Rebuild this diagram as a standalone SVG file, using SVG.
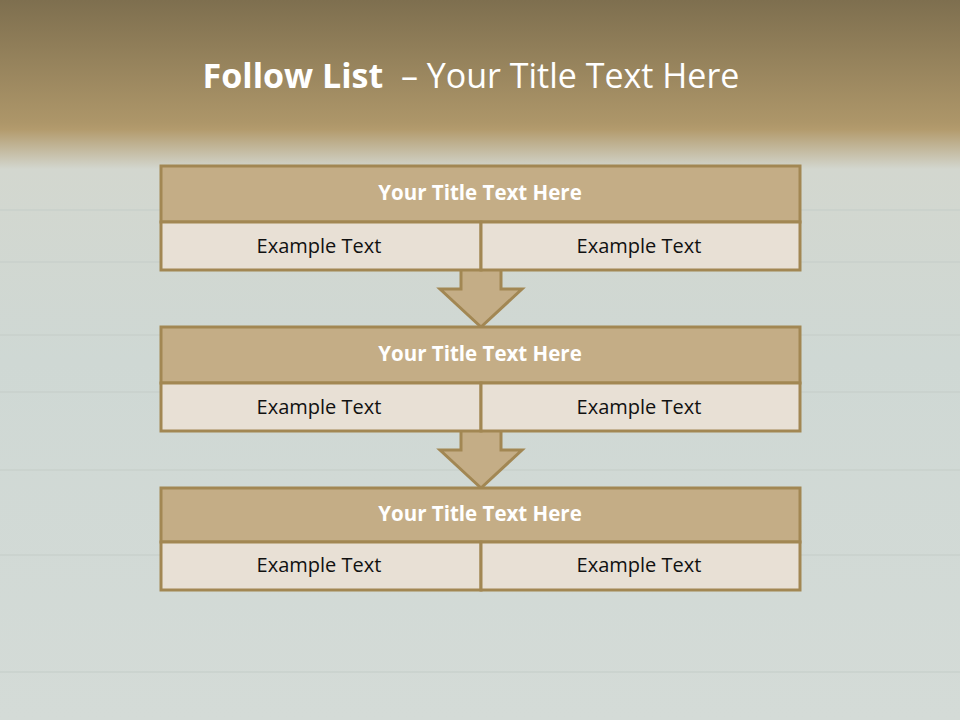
<svg xmlns="http://www.w3.org/2000/svg" width="960" height="720" viewBox="0 0 960 720">
<defs>
<linearGradient id="bg" x1="0" y1="0" x2="0" y2="1">
<stop offset="0" stop-color="#7e6f4f"/>
<stop offset="0.17" stop-color="#ad9669"/>
<stop offset="0.18" stop-color="#b39b6d"/>
<stop offset="0.235" stop-color="#d3d7cf"/>
<stop offset="0.5" stop-color="#cfd8d4"/>
<stop offset="1" stop-color="#d4dbd7"/>
</linearGradient>
<style>
.hd{fill:#c4ad86;stroke:#a28753;stroke-width:3}
.cl{fill:#e8e0d5;stroke:#a28753;stroke-width:3}
.ar{fill:#c4ad86;stroke:#a28753;stroke-width:3;stroke-linejoin:miter}
.plank{stroke:#c6cfca;stroke-width:2;fill:none;opacity:0.6}
.ht{font-family:"Open Sans","Liberation Sans",sans-serif;font-weight:bold;font-size:20.5px;fill:#ffffff;text-anchor:middle}
.et{font-family:"Open Sans","Liberation Sans",sans-serif;font-size:20px;fill:#111111;text-anchor:middle}
</style>
</defs>
<rect x="0" y="0" width="960" height="720" fill="url(#bg)"/>
<g id="planks">
<path class="plank" d="M0 210 H960"/>
<path class="plank" d="M0 262 H960"/>
<path class="plank" d="M0 335 H960"/>
<path class="plank" d="M0 392 H960"/>
<path class="plank" d="M0 470 H960"/>
<path class="plank" d="M0 555 H960"/>
<path class="plank" d="M0 672 H960"/>
</g>
<text x="471" y="88" font-family="Open Sans, Liberation Sans, sans-serif" font-size="34" fill="#ffffff" text-anchor="middle" xml:space="preserve"><tspan font-weight="bold">Follow List</tspan>  – Your Title Text Here</text>
<g id="connectors">
<path class="ar" d="M461 271 V289 H440 L481 327 L522 289 H501 V271"/>
<path class="ar" d="M461 432 V450 H440 L481 488 L522 450 H501 V432"/>
</g>
<g id="node1">
<rect class="hd" x="161" y="166" width="639" height="56"/>
<rect class="cl" x="161" y="222" width="320" height="48"/>
<rect class="cl" x="481" y="222" width="319" height="48"/>
<text class="ht" x="480" y="200">Your Title Text Here</text>
<text class="et" x="319" y="253">Example Text</text>
<text class="et" x="639" y="253">Example Text</text>
</g>
<g id="node2">
<rect class="hd" x="161" y="327" width="639" height="56"/>
<rect class="cl" x="161" y="383" width="320" height="48"/>
<rect class="cl" x="481" y="383" width="319" height="48"/>
<text class="ht" x="480" y="361">Your Title Text Here</text>
<text class="et" x="319" y="414">Example Text</text>
<text class="et" x="639" y="414">Example Text</text>
</g>
<g id="node3">
<rect class="hd" x="161" y="488" width="639" height="54"/>
<rect class="cl" x="161" y="542" width="320" height="48"/>
<rect class="cl" x="481" y="542" width="319" height="48"/>
<text class="ht" x="480" y="521">Your Title Text Here</text>
<text class="et" x="319" y="572">Example Text</text>
<text class="et" x="639" y="572">Example Text</text>
</g>
</svg>
